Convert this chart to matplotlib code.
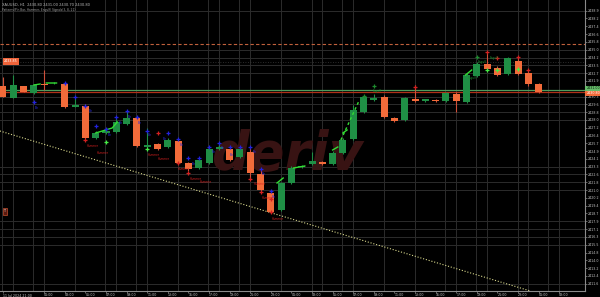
import numpy as np
import pandas as pd
import matplotlib
matplotlib.use("Agg")
import matplotlib.pyplot as plt

# H1 candles, price
OPEN = [2431.4, 2430.2, 2431.4, 2430.7, 2431.6, 2431.65, 2431.6, 2429.3, 2429.4, 2426.2,
        2426.7, 2426.8, 2427.6, 2428.2, 2425.3, 2425.6, 2425.3, 2425.9, 2423.7, 2423.2,
        2423.7, 2425.1, 2425.1, 2424.3, 2424.8, 2422.6, 2420.7, 2419.0, 2421.7, 2423.3,
        2423.6, 2423.8, 2423.6, 2424.7, 2426.1, 2428.8, 2430.0, 2430.3, 2428.2, 2428.0,
        2430.1, 2429.9, 2430.0, 2429.9, 2430.6, 2429.8, 2432.4, 2433.6, 2433.2, 2432.6,
        2433.9, 2432.7, 2431.6]
HIGH = [2432.3, 2432.5, 2431.4, 2431.6, 2433.0, 2431.8, 2431.8, 2430.3, 2429.6, 2426.9,
        2427.2, 2428.4, 2429.0, 2428.4, 2427.2, 2425.7, 2426.2, 2426.1, 2423.8, 2424.2,
        2425.3, 2425.7, 2425.3, 2425.3, 2425.3, 2423.1, 2421.0, 2421.8, 2423.4, 2423.5,
        2424.8, 2423.9, 2424.9, 2426.2, 2429.5, 2430.5, 2430.6, 2430.5, 2428.3, 2430.3,
        2431.5, 2430.1, 2430.1, 2430.8, 2430.8, 2432.7, 2433.8, 2434.8, 2433.4, 2434.3,
        2434.4, 2433.0, 2431.7]
LOW = [2430.3, 2430.2, 2430.8, 2430.6, 2431.0, 2431.6, 2429.2, 2429.3, 2426.1, 2426.1,
       2426.6, 2426.7, 2427.5, 2425.3, 2425.0, 2425.0, 2425.2, 2423.6, 2422.9, 2423.1,
       2423.6, 2425.0, 2423.9, 2424.2, 2422.1, 2420.8, 2418.7, 2418.9, 2421.6, 2423.2,
       2423.5, 2423.5, 2423.5, 2424.6, 2426.0, 2428.7, 2429.9, 2428.2, 2427.8, 2427.9,
       2429.8, 2429.8, 2429.8, 2429.8, 2428.8, 2429.7, 2432.3, 2433.0, 2432.4, 2432.5,
       2432.5, 2431.4, 2430.7]
CLOSE = [2430.3, 2431.5, 2430.8, 2431.5, 2431.5, 2431.7, 2429.3, 2429.5, 2426.2, 2426.7,
         2426.9, 2427.8, 2428.2, 2425.4, 2425.5, 2425.1, 2426.0, 2423.7, 2423.1, 2424.0,
         2425.1, 2425.3, 2424.0, 2425.1, 2422.7, 2421.0, 2418.8, 2421.7, 2423.2, 2423.4,
         2423.9, 2423.55, 2424.7, 2426.0, 2429.0, 2430.3, 2430.2, 2428.3, 2427.9, 2430.2,
         2429.9, 2430.05, 2429.9, 2430.7, 2429.9, 2432.5, 2433.6, 2433.1, 2432.5, 2434.2,
         2432.6, 2431.6, 2430.8]

START_TIME = "2024-07-11 21:00"

# price scale labels on the right
PRICE_TICKS = np.round(2438.93 - 0.78 * np.arange(36), 2)

# levels
BID = 2430.8
ASK = 2431.0
ALERT_LEVEL = 2435.6
ORDER_LEVEL = 2433.85
STOP_MARK = 2418.85
TREND_X = [-0.3, 51.2]
TREND_Y = [2426.9, 2410.9]

# pattern markers
BLUE_X = [3, 6, 7, 8, 9, 10, 11, 12, 13, 14, 16, 17, 18, 19, 20, 21, 22, 23, 24, 25, 26]
BLUE_Y = [2429.8, 2431.7, 2430.3, 2429.4, 2427.4, 2427.1, 2428.3, 2428.9, 2428.3, 2426.9,
          2426.7, 2426.1, 2424.2, 2424.2, 2425.3, 2425.7, 2425.3, 2425.3, 2425.3, 2423.1, 2420.9]
BLUE_TEXT_X = [3.1, 8.3, 10.2, 11.2, 12.1, 13.1, 14.1, 15.5, 17.2, 18.3, 20.3, 21.1, 22.0, 24.2, 25.1, 26.1]
BLUE_TEXT_Y = [2429.4, 2429.1, 2426.7, 2427.9, 2428.5, 2427.9, 2426.7, 2426.3, 2425.7, 2423.8,
               2425.0, 2425.4, 2424.7, 2425.0, 2422.8, 2420.5]

RED_X = [8, 15, 17, 18, 24, 25, 26, 26, 40, 47, 48, 50, 51]
RED_Y = [2426.0, 2426.7, 2423.7, 2422.7, 2422.1, 2420.8, 2420.1, 2418.8, 2431.3, 2434.8,
         2434.2, 2434.3, 2433.0]
RED_TEXT_X = [8.1, 9.1, 14.1, 15.0, 17.0, 18.1, 19.1, 24.3, 25.1, 26.1]
RED_TEXT_Y = [2425.6, 2424.9, 2424.7, 2424.3, 2423.3, 2422.3, 2422.0, 2421.8, 2420.4, 2418.3]

LIME_X = [10, 14, 47, 48, 50]
LIME_Y = [2425.8, 2425.1, 2433.0, 2433.0, 2433.1]
DKGREEN_X = [35, 36, 46]
DKGREEN_Y = [2430.4, 2431.4, 2434.3]
DKGREEN_TEXT_X = [35.9, 46.1, 47.3, 45.1]
DKGREEN_TEXT_Y = [2431.1, 2434.0, 2434.4, 2432.4]

# bullish signal strokes (NaN breaks segments)
SIGNAL_X = [3.0, 3.6, np.nan, 4.2, 5.2, np.nan, 9.0, 10.6, 11.1, np.nan, 26.6, 27.2, np.nan,
            28.2, 29.3, np.nan, 32.0, 32.5, np.nan, 33.0, 33.4, np.nan, 44.9, 45.5]
SIGNAL_Y = [2431.5, 2431.6, np.nan, 2431.7, 2431.7, np.nan, 2426.7, 2427.2, 2427.8, np.nan,
            2421.7, 2422.2, np.nan, 2423.2, 2423.4, np.nan, 2425.0, 2425.3, np.nan, 2426.7,
            2427.0, np.nan, 2432.5, 2433.0]
DASH_X = [32.8, 34.6]
DASH_Y = [2426.0, 2430.0]

GRID_COLS = [0, 1, 3, 4, 7, 10, 11, 13, 14, 17, 20, 21, 23, 24, 27, 30, 31, 33, 34, 37,
             40, 43, 44, 46, 47, 50, 51, 53, 54]
GRID_ROWS = [0, 5, 6, 7, 8, 11, 12, 13, 14, 20, 21, 22, 23, 27, 28, 29, 30, 35]

UP = "#1f8f45"
DOWN = "#f26b3a"
TXT = "#c4c4c4"

fig = plt.figure(figsize=(6, 2.97), dpi=100, facecolor="black")
ax = fig.add_axes([0, 6 / 297, 585 / 600, 291 / 297], facecolor="black")
ax.set_xlim(-0.29, 56.5)
ax.set_ylim(2410.9, 2440.0)

# grid
for col in GRID_COLS:
    ax.axvline(col - 0.05, color="#2c2c2c", lw=0.7, zorder=0)
for r in GRID_ROWS:
    ax.axhline(PRICE_TICKS[r], color="#2c2c2c", lw=0.7, zorder=0)

# watermark
ax.text(0.49, 0.415, "deriv", transform=ax.transAxes, fontsize=38, fontweight="bold",
        style="italic", color="#381313", ha="center", va="baseline", zorder=0.5)

# candles
o = np.array(OPEN)
c = np.array(CLOSE)
x = np.arange(len(o))
up = c >= o
colors = np.where(up, UP, DOWN)
wick = np.where(up, UP, "#d0503a")
ax.vlines(x, LOW, HIGH, colors=wick, lw=0.8, zorder=2)
ax.bar(x, c - o, bottom=o, width=0.68, color=colors, zorder=3)

# level lines
ax.plot(TREND_X, TREND_Y, color="#d8d88c", ls=(0, (1, 1.6)), lw=0.8, zorder=1)
ax.axhline(ALERT_LEVEL, color="#c0603c", ls=(0, (3, 2)), lw=0.8, zorder=1)
ax.axhline(ORDER_LEVEL, color="#3a3a3a", ls=(0, (1, 2)), lw=0.6, zorder=1)
ax.axhline(ASK, color="#4f9d5d", lw=0.9, zorder=1)
ax.axhline(BID, color="#b03018", lw=0.9, zorder=1)

# signal strokes
ax.plot(SIGNAL_X, SIGNAL_Y, color="#33dd33", lw=1.0, zorder=4)
ax.plot(DASH_X, DASH_Y, color="#33dd33", lw=1.0, ls=(0, (2, 2)), zorder=4)

# markers and labels
mk = dict(ls="none", marker="+", ms=3.2, mew=0.9, zorder=5)
ax.plot(BLUE_X, BLUE_Y, color="#2222dd", **mk)
ax.plot(RED_X, RED_Y, color="#d42020", **mk)
ax.plot(LIME_X, LIME_Y, color="#44ee44", **mk)
ax.plot(DKGREEN_X, DKGREEN_Y, color="#1e8a2e", **mk)
for tx, ty in zip(BLUE_TEXT_X, BLUE_TEXT_Y):
    ax.text(tx, ty, "Pin", color="#2a2ae0", fontsize=2.0, va="top", ha="left", zorder=5)
for tx, ty in zip(RED_TEXT_X, RED_TEXT_Y):
    ax.text(tx, ty, "Hammer", color="#d42020", fontsize=2.0, va="top", ha="left", zorder=5)
for tx, ty in zip(DKGREEN_TEXT_X, DKGREEN_TEXT_Y):
    ax.text(tx, ty, "Engulf", color="#1e8a2e", fontsize=2.0, va="top", ha="left", zorder=5)

# price boxes
ax.text(0.1, ORDER_LEVEL, f"{ORDER_LEVEL:.2f}", fontsize=2.3, color="white", va="center",
        bbox=dict(boxstyle="square,pad=0.35", fc="#f0643a", ec="none"), zorder=6)
ax.text(0.1, STOP_MARK, "T", fontsize=2.3, color="white", va="center",
        bbox=dict(boxstyle="square,pad=0.35", fc="#5a1a10", ec="#c05030", lw=0.5), zorder=6)
for lvl, fc, tc, dy in [(ASK, "#66bb6a", "#0a200a", 0.15), (BID, "#f26b3a", "white", -0.15)]:
    ax.annotate(f"{lvl:.2f}", (1.0, lvl + dy), xycoords=("axes fraction", "data"),
                xytext=(1, 0), textcoords="offset points", fontsize=2.3, color=tc,
                va="center", ha="left", annotation_clip=False,
                bbox=dict(boxstyle="square,pad=0.3", fc=fc, ec="none"), zorder=7)

# axes
for side in ("left", "top"):
    ax.spines[side].set_visible(False)
for side in ("right", "bottom"):
    ax.spines[side].set_color("#8a8a8a")
    ax.spines[side].set_linewidth(0.8)
ax.yaxis.tick_right()
ax.set_yticks(PRICE_TICKS)
ax.set_yticklabels([f"{p:.1f}" for p in PRICE_TICKS])
ax.tick_params(axis="y", colors="#8a8a8a", labelcolor=TXT, labelsize=2.3, length=1.5,
               width=0.5, pad=0.8)

times = pd.date_range(START_TIME, periods=57, freq="h")
xt = [0] + list(range(4, 56, 2))
ax.set_xticks(xt)
ax.set_xticklabels([times[0].strftime("%d %b %Y %H:%M")] +
                   [times[i].strftime("%H:%M") for i in xt[1:]])
for lab in ax.get_xticklabels():
    lab.set_ha("left")
ax.tick_params(axis="x", colors="#8a8a8a", labelcolor=TXT, labelsize=2.3, length=1.5,
               width=0.5, pad=0.3)

# header
fig.text(2 / 600, 1 - 5 / 297, "XAUUSD, H1  2430.80 2431.00 2430.70 2430.80", fontsize=2.6,
         color="#b8b8b8", va="center")
fig.text(2 / 600, 1 - 10 / 297, "Patterns(Pin Bar, Hammer, Engulf) Signals(3, 8, 21)", fontsize=2.1,
         color="#a0a0a0", va="center")

fig.savefig("out.png", dpi=100, facecolor="black")
